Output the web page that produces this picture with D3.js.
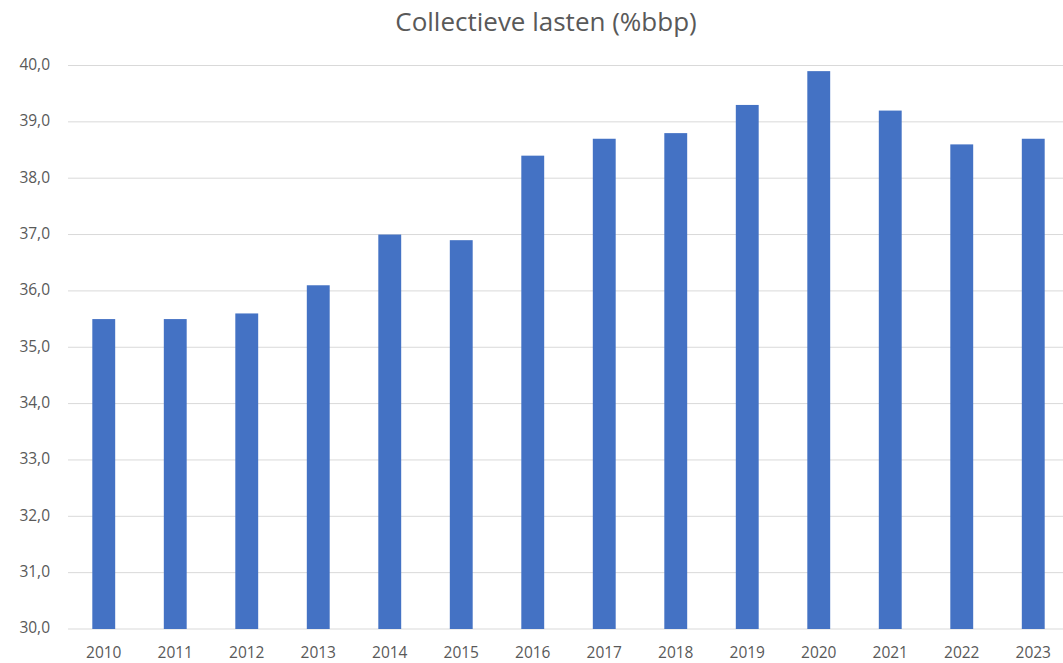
<!DOCTYPE html>
<html><head><meta charset="utf-8">
<script src="https://cdn.jsdelivr.net/npm/d3@7"></script>
<style>body{margin:0;background:#fff;}svg{display:block;}</style>
</head><body>
<svg id="c" width="1063" height="663"></svg>
<script>
const years = ["2010","2011","2012","2013","2014","2015","2016","2017","2018","2019","2020","2021","2022","2023"];
const values = [35.5,35.5,35.6,36.1,37.0,36.9,38.4,38.7,38.8,39.3,39.9,39.2,38.6,38.7];
const yTicks = [30,31,32,33,34,35,36,37,38,39,40];
const title = "Collectieve lasten (%bbp)";

(function(){
const svg = d3.select("#c");
const pL = 68, pR = 1069, pT = 65.5, pB = 629;
const x = d3.scaleBand().domain(years).range([pL, pR]).paddingInner(0.68).paddingOuter(0.34);
const y = d3.scaleLinear().domain([30, 40]).range([pB, pT]);
const font = "'Open Sans', 'Liberation Sans', sans-serif";

svg.append("g").selectAll("line").data(yTicks).join("line")
  .attr("x1", pL).attr("x2", 1063)
  .attr("y1", d => y(d)).attr("y2", d => y(d))
  .attr("stroke", "#d9d9d9").attr("stroke-width", 1);

svg.append("g").selectAll("rect").data(years).join("rect")
  .attr("x", d => x(d)).attr("width", x.bandwidth())
  .attr("y", (d,i) => y(values[i])).attr("height", (d,i) => y(30) - y(values[i]))
  .attr("fill", "#4472c4");

const fmt = d => d.toFixed(1).replace(".", ",");
svg.append("g").selectAll("text").data(yTicks).join("text")
  .attr("x", 50).attr("y", d => y(d) - 1).attr("dy", "0.35em")
  .attr("text-anchor", "end").attr("font-family", font).attr("font-size", 15.5)
  .attr("fill", "#595959").text(fmt);

svg.append("g").selectAll("text").data(years).join("text")
  .attr("x", d => x(d) + x.bandwidth()/2).attr("y", 652.5).attr("dy", "0.35em")
  .attr("text-anchor", "middle").attr("font-family", font).attr("font-size", 15.5)
  .attr("fill", "#595959").text(d => d);

svg.append("text").attr("x", 546).attr("y", 22).attr("dy", "0.35em")
  .attr("text-anchor", "middle").attr("font-family", font).attr("font-size", 26)
  .attr("fill", "#595959").text(title);
})();
</script>
</body></html>
